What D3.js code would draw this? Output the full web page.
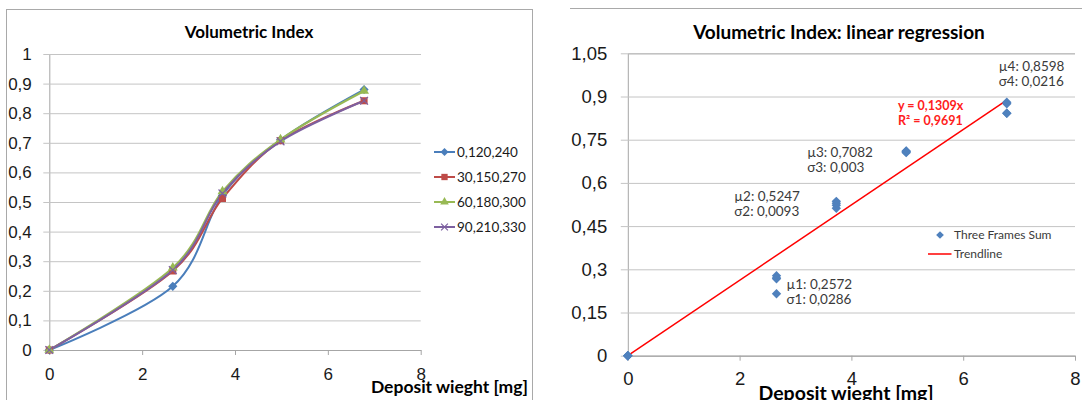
<!DOCTYPE html>
<html>
<head>
<meta charset="utf-8">
<script src="https://cdn.jsdelivr.net/npm/d3@7"></script>
<style>
  html, body { margin: 0; padding: 0; background: #fff; }
  svg { display: block; font-family: Lato, "Liberation Sans", sans-serif; }
</style>
</head>
<body>
<div id="chart"></div>
<script>
// deposit weight [mg] for the five samples
const depositMg = [0, 2.66, 3.73, 4.98, 6.78];

// volumetric index per frame set
const seriesNames = ['0,120,240', '30,150,270', '60,180,300', '90,210,330'];
const frames0 = [0, 0.215, 0.522, 0.710, 0.880];
const frames30 = [0, 0.267, 0.512, 0.707, 0.842];
const frames60 = [0, 0.278, 0.536, 0.711, 0.875];
const frames90 = [0, 0.270, 0.529, 0.705, 0.842];

const xTicks = [0, 2, 4, 6, 8];
const leftYTicks = [0, 0.1, 0.2, 0.3, 0.4, 0.5, 0.6, 0.7, 0.8, 0.9, 1];
const rightYTicks = [0, 0.15, 0.3, 0.45, 0.6, 0.75, 0.9, 1.05];

// regression
const trendSlope = 0.1309;
const trendText = ['y = 0,1309x', 'R² = 0,9691'];
const muLabels = ['µ1: 0,2572', 'µ2: 0,5247', 'µ3: 0,7082', 'µ4: 0,8598'];
const sigmaLabels = ['σ1: 0,0286', 'σ2: 0,0093', 'σ3: 0,003', 'σ4: 0,0216'];
const muValues = [0.2572, 0.5247, 0.7082, 0.8598];

const colors = ['#4a7ebb', '#be4b48', '#98b954', '#7d60a0'];
const symbols = ['diamond', 'square', 'triangle', 'x'];
const allSeries = [frames0, frames30, frames60, frames90];

const fmt = (d) => String(+d.toFixed(2)).replace('.', ',');
const gridColor = '#c4c4c4';
const axisColor = '#a6a6a6';

// excel-like marker: diamonds are rotated squares
function marker(sel, kind, color, size) {
  if (kind === 'diamond') {
    sel.attr('d', d3.symbol(d3.symbolSquare, size))
      .attr('fill', color)
      .attr('transform', function() { return d3.select(this).attr('transform') + ' rotate(45)'; });
  } else if (kind === 'x') {
    sel.attr('d', d3.symbol(d3.symbolX, size)).attr('fill', 'none')
      .attr('stroke', color).attr('stroke-width', 1.2);
  } else {
    const t = kind === 'square' ? d3.symbolSquare : d3.symbolTriangle;
    sel.attr('d', d3.symbol(t, size)).attr('fill', color);
  }
}

const svg = d3.select('#chart')
  .append('svg')
    .attr('width', 1082)
    .attr('height', 400);

// ---------- left chart ----------
const left = svg.append('g');

left.append('rect')
  .attr('x', 6.5).attr('y', 9.5)
  .attr('width', 526).attr('height', 400)
  .attr('fill', '#fff')
  .attr('stroke', '#a9a9a9');

const xL = d3.scaleLinear().domain([0, 8]).range([49.3, 420.7]);
const yL = d3.scaleLinear().domain([0, 1]).range([350, 54]);

const gyL = left.append('g')
  .attr('transform', `translate(${xL(0)},0)`)
  .call(d3.axisLeft(yL).tickValues(leftYTicks).tickFormat(fmt)
    .tickSize(-(xL(8) - xL(0))).tickPadding(17.5));
gyL.select('.domain').attr('stroke', axisColor);
gyL.selectAll('.tick line').attr('x1', -6).attr('stroke', gridColor);
gyL.selectAll('.tick text').attr('font-size', 17).attr('fill', '#1a1a1a');

const gxL = left.append('g')
  .attr('transform', `translate(0,${yL(0)})`)
  .call(d3.axisBottom(xL).tickValues(xTicks).tickFormat(fmt)
    .tickSize(5).tickPadding(13).tickSizeOuter(0));
gxL.select('.domain').attr('stroke', axisColor);
gxL.selectAll('.tick line').attr('stroke', axisColor);
gxL.selectAll('.tick text').attr('font-size', 17).attr('fill', '#1a1a1a');

const line = d3.line()
  .x((d, i) => xL(depositMg[i]))
  .y((d) => yL(d))
  .curve(d3.curveCardinal.tension(0));

allSeries.forEach((vals, s) => {
  left.append('path')
    .datum(vals)
    .attr('fill', 'none')
    .attr('stroke', colors[s])
    .attr('stroke-width', 2)
    .attr('d', line);
});

allSeries.forEach((vals, s) => {
  left.selectAll(null)
    .data(vals)
    .enter().append('path')
      .attr('transform', (d, i) => `translate(${xL(depositMg[i])},${yL(d)})`)
      .call(marker, symbols[s], colors[s], s === 1 ? 50 : 42);
});

left.append('text')
  .attr('x', 249).attr('y', 38)
  .attr('text-anchor', 'middle')
  .attr('font-size', 17).attr('font-weight', 'bold')
  .text('Volumetric Index');

left.append('text')
  .attr('x', 528).attr('y', 393)
  .attr('text-anchor', 'end')
  .attr('font-size', 17.5).attr('font-weight', 'bold')
  .text('Deposit wieght [mg]');

const legL = left.append('g');
seriesNames.forEach((name, s) => {
  const ly = 152 + s * 25;
  legL.append('line')
    .attr('x1', 434).attr('x2', 455).attr('y1', ly).attr('y2', ly)
    .attr('stroke', colors[s]).attr('stroke-width', 2);
  legL.append('path')
    .attr('transform', `translate(444.5,${ly})`)
    .call(marker, symbols[s], colors[s], s === 1 ? 40 : 32);
  legL.append('text')
    .attr('x', 457).attr('y', ly + 5)
    .attr('font-size', 13.5).attr('fill', '#1a1a1a')
    .text(name);
});

// ---------- right chart ----------
const right = svg.append('g');

right.append('line')
  .attr('x1', 570).attr('x2', 1082).attr('y1', 8.5).attr('y2', 8.5)
  .attr('stroke', '#a9a9a9');

const xR = d3.scaleLinear().domain([0, 8]).range([627.8, 1075]);
const yR = d3.scaleLinear().domain([0, 1.05]).range([355.7, 53.3]);

const gyR = right.append('g')
  .attr('transform', `translate(${xR(0)},0)`)
  .call(d3.axisLeft(yR).tickValues(rightYTicks).tickFormat(fmt)
    .tickSize(-(xR(8) - xR(0))).tickPadding(20.5));
gyR.select('.domain').attr('stroke', axisColor);
gyR.selectAll('.tick line').attr('x1', -7).attr('stroke', gridColor);
gyR.selectAll('.tick text').attr('font-size', 18.5).attr('fill', '#1a1a1a');

const gxR = right.append('g')
  .attr('transform', `translate(0,${yR(0)})`)
  .call(d3.axisBottom(xR).tickValues(xTicks).tickFormat(fmt)
    .tickSize(5).tickPadding(11).tickSizeOuter(0));
gxR.select('.domain').attr('stroke', axisColor);
gxR.selectAll('.tick line').attr('stroke', axisColor);
gxR.selectAll('.tick text').attr('font-size', 18.5).attr('fill', '#1a1a1a');

// trendline through the origin, up to the largest deposit
const xMax = d3.max(depositMg);
right.append('line')
  .attr('x1', xR(0)).attr('y1', yR(0))
  .attr('x2', xR(xMax)).attr('y2', yR(trendSlope * xMax))
  .attr('stroke', '#ff0000').attr('stroke-width', 1.5);

// all frames as one scatter
const points = [];
allSeries.forEach((vals) => vals.forEach((v, i) => points.push([depositMg[i], v])));
right.selectAll(null)
  .data(points)
  .enter().append('path')
    .attr('transform', (d) => `translate(${xR(d[0])},${yR(d[1])})`)
    .call(marker, 'diamond', '#4f81bd', 44);

right.append('text')
  .attr('x', 839).attr('y', 39)
  .attr('text-anchor', 'middle')
  .attr('font-size', 19).attr('font-weight', 'bold')
  .text('Volumetric Index: linear regression');

right.append('text')
  .attr('x', 846).attr('y', 400)
  .attr('text-anchor', 'middle')
  .attr('font-size', 19.5).attr('font-weight', 'bold')
  .text('Deposit wieght [mg]');

trendText.forEach((t, i) => {
  right.append('text')
    .attr('x', 898).attr('y', 110 + i * 14.5)
    .attr('font-size', 12.5).attr('font-weight', 'bold')
    .attr('fill', '#ff2020')
    .text(t);
});

// stats labels placed next to each cluster
const statOffsets = [[10, 2], [-102, -9], [-99, 0], [-8, -42]];
muLabels.forEach((mu, k) => {
  const px = xR(depositMg[k + 1]) + statOffsets[k][0];
  const py = yR(muValues[k]) + statOffsets[k][1] + 5;
  right.append('text')
    .attr('x', px).attr('y', py)
    .attr('font-size', 13.5).attr('fill', '#3a3a3a')
    .text(mu);
  right.append('text')
    .attr('x', px).attr('y', py + 15)
    .attr('font-size', 13.5).attr('fill', '#3a3a3a')
    .text(sigmaLabels[k]);
});

const legR = right.append('g');
legR.append('path')
  .attr('transform', 'translate(940,235)')
  .call(marker, 'diamond', '#4f81bd', 30);
legR.append('text')
  .attr('x', 954).attr('y', 239)
  .attr('font-size', 12).attr('fill', '#3a3a3a')
  .text('Three Frames Sum');
legR.append('line')
  .attr('x1', 928).attr('x2', 951.5).attr('y1', 254).attr('y2', 254)
  .attr('stroke', '#ff0000').attr('stroke-width', 1.5);
legR.append('text')
  .attr('x', 954).attr('y', 258)
  .attr('font-size', 12).attr('fill', '#3a3a3a')
  .text('Trendline');
</script>
</body>
</html>
